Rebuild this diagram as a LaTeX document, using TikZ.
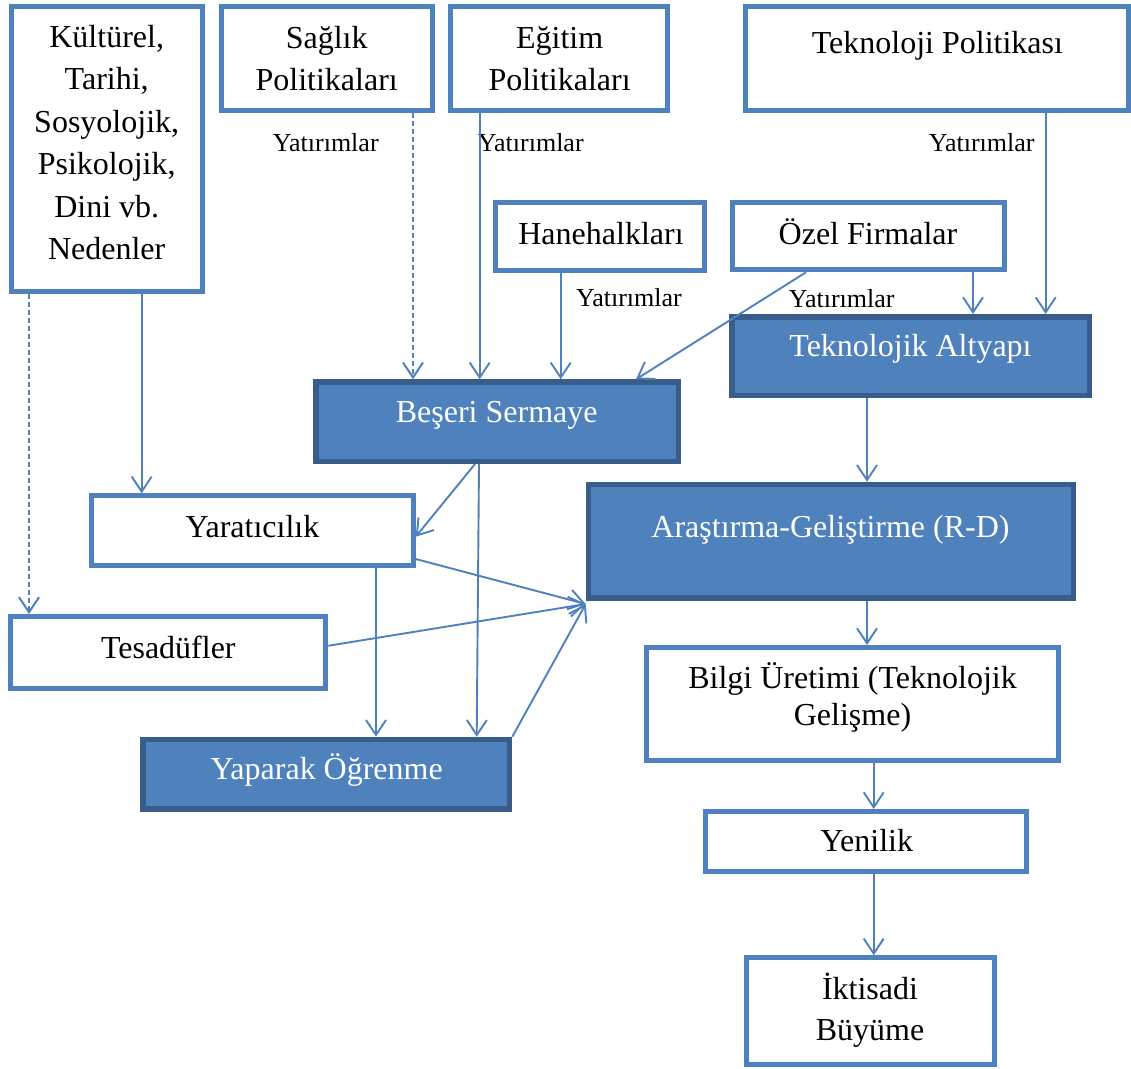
\documentclass[tikz,border=0pt]{standalone}
\usepackage{fontspec}
\setmainfont{Liberation Serif}
\usetikzlibrary{arrows.meta}
\definecolor{lblue}{HTML}{4F81BD}
\definecolor{dblue}{HTML}{385D8A}
\begin{document}
\begin{tikzpicture}[x=1pt,y=-1pt,
  wbox/.style={draw=lblue, line width=5pt, fill=white, rectangle, inner sep=0pt},
  fbox/.style={draw=dblue, line width=5.5pt, fill=lblue, rectangle, inner sep=0pt},
  txt/.style={font=\fontsize{32}{42.4}\selectfont, anchor=base, inner sep=0pt, align=center},
  wtxt/.style={txt, text=white},
  lab/.style={font=\fontsize{26}{30}\selectfont, anchor=base, inner sep=0pt},
  arr/.style={draw=lblue, line width=1.9pt, -{Straight Barb[length=15pt,width=20pt]}},
  dsh/.style={line width=2pt, dash pattern=on 5pt off 3pt}]
\useasboundingbox[fill=white] (0,0) rectangle (1131,1068);

% boxes
\node[wbox, minimum width=191pt, minimum height=285pt] (kul) at (107,149) {};
\node[wbox, minimum width=211pt, minimum height=103.7pt] (sag) at (327,58.35) {};
\node[wbox, minimum width=217pt, minimum height=103.7pt] (egi) at (559,58.35) {};
\node[wbox, minimum width=383.3pt, minimum height=103.7pt] (tek) at (936.85,58.35) {};
\node[wbox, minimum width=208.4pt, minimum height=67.7pt] (hane) at (600,236.35) {};
\node[wbox, minimum width=271.7pt, minimum height=67.3pt] (ozel) at (868.35,236.15) {};
\node[fbox, minimum width=357.5pt, minimum height=78.8pt] (alt) at (910.8,356.15) {};
\node[fbox, minimum width=362.2pt, minimum height=79.2pt] (bes) at (497.15,421.65) {};
\node[wbox, minimum width=321.4pt, minimum height=69.4pt] (yar) at (252.5,530.5) {};
\node[fbox, minimum width=484.8pt, minimum height=113.5pt] (arge) at (830.85,541.2) {};
\node[wbox, minimum width=315pt, minimum height=71.7pt] (tes) at (168.3,652.35) {};
\node[fbox, minimum width=366.8pt, minimum height=69.5pt] (yap) at (326.15,774.2) {};
\node[wbox, minimum width=411.7pt, minimum height=112.7pt] (bil) at (852.35,703.85) {};
\node[wbox, minimum width=320.7pt, minimum height=60.3pt] (yen) at (866.15,841.65) {};
\node[wbox, minimum width=247.7pt, minimum height=106.4pt] (ikt) at (870.35,1011) {};

% texts (multi-line nodes are placed by the baseline of their last line)
\node[txt] (kulT) at (106.7,259.5) {Kültürel,\\Tarihi,\\Sosyolojik,\\Psikolojik,\\Dini vb.\\Nedenler};
\node[txt, font=\fontsize{32}{41.8}\selectfont] (sagT) at (326.7,90.1) {Sağlık\\Politikaları};
\node[txt, font=\fontsize{32}{41.8}\selectfont] (egiT) at (559.6,90.1) {Eğitim\\Politikaları};
\node[txt] (tekT) at (937.4,53.3) {Teknoloji Politikası};
\node[txt] (haneT) at (601,244) {Hanehalkları};
\node[txt] (ozelT) at (868,244) {Özel Firmalar};
\node[wtxt] (altT) at (910.5,356.7) {Teknolojik Altyapı};
\node[wtxt] (besT) at (496.7,422.7) {Beşeri Sermaye};
\node[txt] (yarT) at (252.5,537.3) {Yaratıcılık};
\node[wtxt] (argeT) at (830.5,537.3) {Araştırma-Geliştirme (R-D)};
\node[txt] (tesT) at (168.3,658.3) {Tesadüfler};
\node[wtxt] (yapT) at (326.7,779.3) {Yaparak Öğrenme};
\node[txt, font=\fontsize{32}{36.7}\selectfont] (bilT) at (852.5,725) {Bilgi Üretimi (Teknolojik\\Gelişme)};
\node[txt] (yenT) at (866.7,851.7) {Yenilik};
\node[txt, font=\fontsize{32}{41.3}\selectfont] (iktT) at (870,1040.7) {İktisadi\\Büyüme};

% labels
\node[lab] (l1) at (325.8,151) {Yatırımlar};
\node[lab] (l2) at (530.8,151) {Yatırımlar};
\node[lab] (l3) at (629,306.7) {Yatırımlar};
\node[lab] (l4) at (841.7,307.3) {Yatırımlar};
\node[lab] (l5) at (981.7,151.7) {Yatırımlar};

% x positions for vertical connectors
\coordinate (xa) at (29,0);
\coordinate (xb) at (141.7,0);
\coordinate (xc) at (413,0);
\coordinate (xd) at (479.7,0);
\coordinate (xe) at (560.7,0);
\coordinate (xf) at (806,0);
\coordinate (xg) at (636,0);
\coordinate (xh) at (973,0);
\coordinate (xi) at (1045.7,0);
\coordinate (xj) at (867,0);
\coordinate (xk) at (475,0);
\coordinate (xl) at (479,0);
\coordinate (xm) at (476.7,0);
\coordinate (xn) at (376,0);
\coordinate (xo) at (873.7,0);

% connectors
\draw[arr,dsh] (kul.south -| xa) -- (tes.north -| xa);
\draw[arr] (kul.south -| xb) -- (yar.north -| xb);
\draw[arr,dsh] (sag.south -| xc) -- (bes.north -| xc);
\draw[arr] (egi.south -| xd) -- (bes.north -| xd);
\draw[arr] (hane.south -| xe) -- (bes.north -| xe);
\draw[arr] (ozel.south -| xf) -- (bes.north -| xg);
\draw[arr] (ozel.south -| xh) -- (alt.north -| xh);
\draw[arr] (tek.south -| xi) -- (alt.north -| xi);
\draw[arr] (alt.south -| xj) -- (arge.north -| xj);
\draw[arr] (bes.south -| xk) -- ([yshift=-6.2pt]yar.east);
\draw[arr] (bes.south -| xl) -- (yap.north -| xm);
\draw[arr] (yar.south -| xn) -- (yap.north -| xn);
\draw[arr] ([yshift=-28.5pt]yar.east) -- ([yshift=-62.8pt]arge.west);
\draw[arr] ([yshift=6.6pt]tes.east) -- ([yshift=-62.8pt]arge.west);
\draw[arr] (yap.north east) -- ([yshift=-62.8pt]arge.west);
\draw[arr] (arge.south -| xj) -- (bil.north -| xj);
\draw[arr] (bil.south -| xo) -- (yen.north -| xo);
\draw[arr] (yen.south -| xo) -- (ikt.north -| xo);
\end{tikzpicture}
\end{document}
